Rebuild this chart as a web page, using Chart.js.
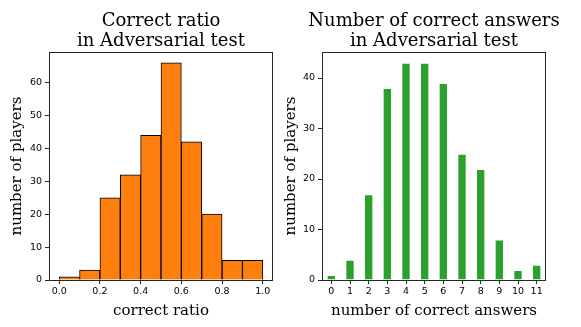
<!DOCTYPE html>
<html>
<head>
<meta charset="utf-8">
<script src="https://cdn.jsdelivr.net/npm/chart.js@4.4.0/dist/chart.umd.min.js"></script>
<style>
  html, body { margin: 0; padding: 0; background: #fff; overflow: hidden; }
  canvas { position: absolute; top: 0; }
  #ratioChart { left: 0; }
  #answersChart { left: 270px; }
</style>
</head>
<body>
<canvas id="ratioChart" width="290" height="327"></canvas>
<canvas id="answersChart" width="311" height="327"></canvas>
<script>
// left: histogram of correct ratio (bins of 0.1, x = bin centre)
var ratioBins = [0.05, 0.15, 0.25, 0.35, 0.45, 0.55, 0.65, 0.75, 0.85, 0.95];
var ratioCounts = [1, 3, 25, 32, 44, 66, 42, 20, 6, 6];
var ratioXTicks = [0, 0.2, 0.4, 0.6, 0.8, 1.0];
var ratioYTicks = [0, 10, 20, 30, 40, 50, 60];

// right: number of correct answers
var answers = [0, 1, 2, 3, 4, 5, 6, 7, 8, 9, 10, 11];
var answerCounts = [1, 4, 17, 38, 43, 43, 39, 25, 22, 8, 2, 3];
var answerYTicks = [0, 10, 20, 30, 40];

var tickFont = { family: 'DejaVu Sans', size: 9.5 };
var labelFont = { family: 'DejaVu Serif', size: 15, lineHeight: 1.2 };

// matplotlib style box around the plot area
var framePlugin = {
  id: 'frame',
  afterDatasetsDraw: function(chart) {
    var a = chart.chartArea;
    var ctx = chart.ctx;
    ctx.save();
    ctx.strokeStyle = '#262626';
    ctx.lineWidth = 1;
    ctx.strokeRect(Math.round(a.left) + 0.5, Math.round(a.top) + 0.5,
      Math.round(a.right) - Math.round(a.left) - 1, Math.round(a.bottom) - Math.round(a.top));
    ctx.restore();
  }
};

// two line title centred over the plot area (may be wider than it)
function titlePlugin(lines) {
  return {
    id: 'plotTitle',
    afterDraw: function(chart) {
      var a = chart.chartArea;
      var ctx = chart.ctx;
      ctx.save();
      ctx.font = '18px "DejaVu Serif"';
      ctx.fillStyle = '#000';
      ctx.textAlign = 'center';
      ctx.textBaseline = 'alphabetic';
      lines.forEach(function(t, i) {
        ctx.fillText(t, (a.left + a.right) / 2, 26 + i * 19.7);
      });
      ctx.restore();
    }
  };
}

function fixedTicks(values) {
  return function(scale) {
    scale.ticks = values.map(function(v) { return { value: v }; });
  };
}

function makeChart(id, o) {
  var points = o.xs.map(function(x, i) { return { x: x, y: o.ys[i] }; });
  return new Chart(document.getElementById(id), {
    type: 'bar',
    data: {
      datasets: [{
        data: points,
        backgroundColor: o.color,
        borderColor: o.edge,
        borderWidth: 1,
        barPercentage: o.barPct,
        categoryPercentage: 1
      }]
    },
    plugins: [framePlugin, titlePlugin(o.title)],
    options: {
      responsive: false,
      animation: false,
      layout: { padding: { left: 0, right: o.padRight, top: 52, bottom: 0 } },
      plugins: { legend: { display: false }, tooltip: { enabled: false } },
      scales: {
        x: {
          type: 'linear',
          offset: false,
          min: o.xMin,
          max: o.xMax,
          afterBuildTicks: fixedTicks(o.xTicks),
          afterFit: function(s) { s.height = 47; },
          border: { display: false },
          grid: { offset: false, drawOnChartArea: false, drawTicks: true, tickLength: 4, color: '#262626' },
          ticks: { font: tickFont, color: '#000', padding: 2, maxRotation: 0, autoSkip: false,
            callback: o.xFormat },
          title: { display: true, text: o.xLabel, font: labelFont, color: '#000',
            padding: { top: 0, bottom: 7 } }
        },
        y: {
          min: 0,
          max: o.yMax,
          afterBuildTicks: fixedTicks(o.yTicks),
          afterFit: function(s) { s.width = o.yWidth; },
          border: { display: false },
          grid: { drawOnChartArea: false, drawTicks: true, tickLength: 4, color: '#262626' },
          ticks: { font: tickFont, color: '#000', padding: 3 },
          title: { display: true, text: 'number of players', font: labelFont, color: '#000',
            padding: { top: o.yTitlePad, bottom: 0 } }
        }
      }
    }
  });
}

makeChart('ratioChart', {
  xs: ratioBins, ys: ratioCounts,
  color: '#ff7f0e', edge: '#000', barPct: 1,
  xMin: -0.05, xMax: 1.05, xTicks: ratioXTicks,
  xFormat: function(v) { return v.toFixed(1); },
  yMax: 66 * 1.05, yTicks: ratioYTicks,
  yWidth: 49, yTitlePad: 7.7, padRight: 17,
  xLabel: 'correct ratio',
  title: ['Correct ratio', 'in Adversarial test']
});

makeChart('answersChart', {
  xs: answers, ys: answerCounts,
  color: '#2ca02c', edge: 'rgba(255,255,255,0.6)', barPct: 0.5,
  xMin: -0.5, xMax: 11.5, xTicks: answers,
  xFormat: function(v) { return String(v); },
  yMax: 43 * 1.05, yTicks: answerYTicks,
  yWidth: 52, yTitlePad: 12, padRight: 35,
  xLabel: 'number of correct answers',
  title: ['Number of correct answers', 'in Adversarial test']
});
</script>
</body>
</html>
